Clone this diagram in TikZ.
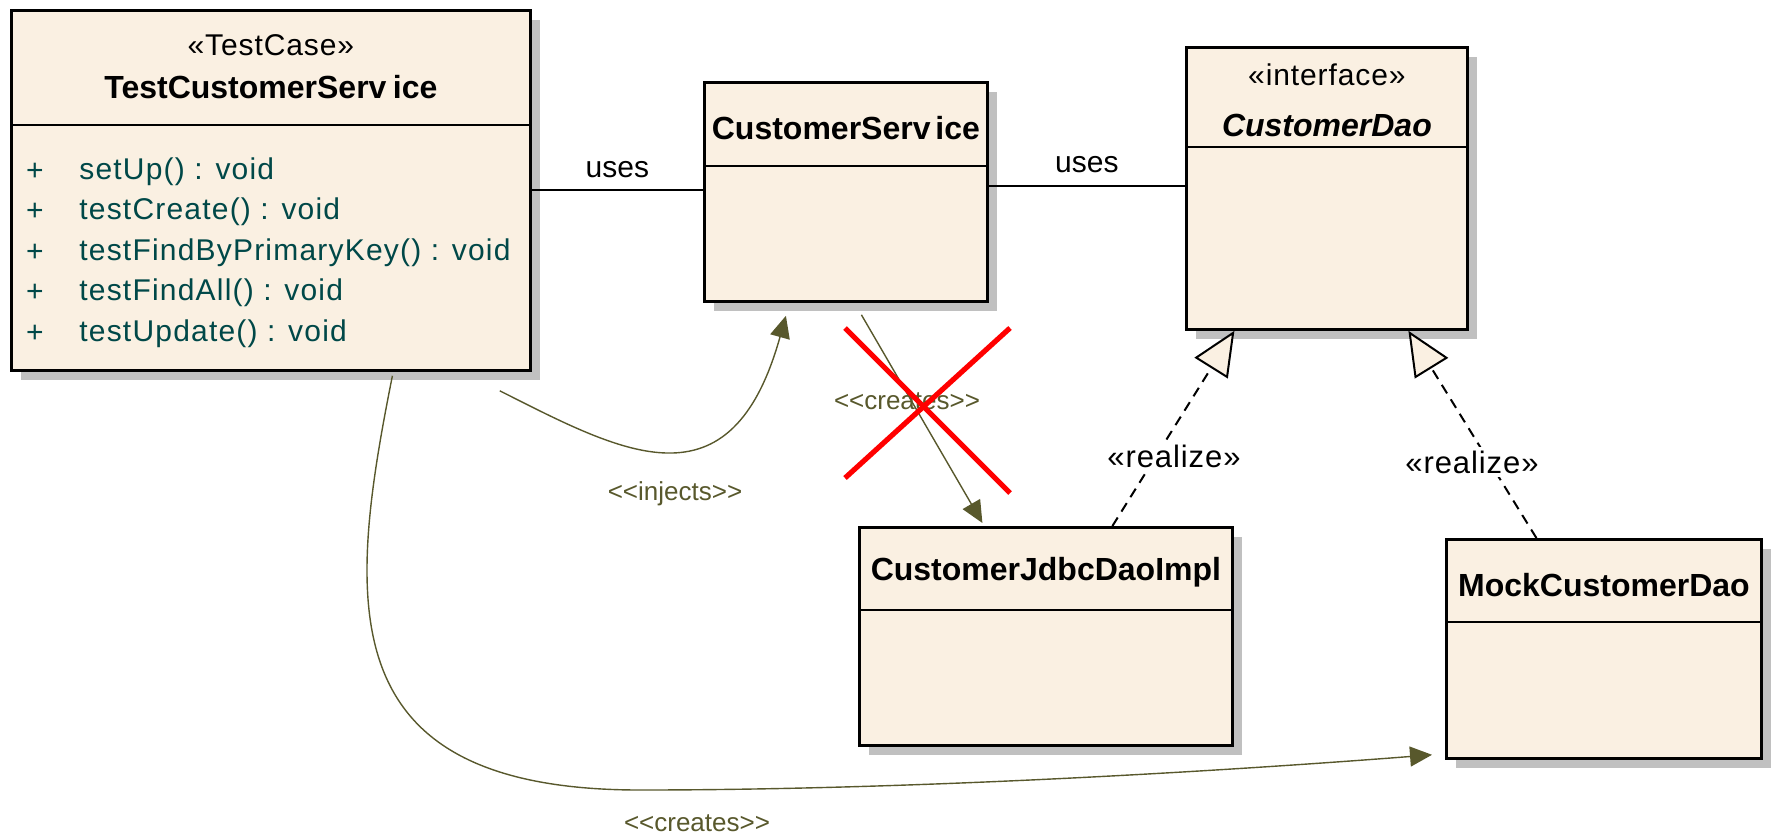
\documentclass[tikz,border=0pt]{standalone}
\usepackage{fontspec}
\setmainfont{Liberation Sans}
\newfontfamily\opfont[LetterSpace=4]{Liberation Sans}
\newfontfamily\stereofont[LetterSpace=3]{Liberation Sans}
\usepackage{xcolor}
\usetikzlibrary{positioning,arrows.meta,shadows}
\definecolor{umlfill}{RGB}{250,240,226}
\definecolor{umlshadow}{RGB}{192,192,192}
\definecolor{depcolor}{RGB}{88,88,44}
\definecolor{opcolor}{RGB}{0,72,72}
\tikzset{
  classbox/.style={draw,line width=1.4pt,fill=umlfill,anchor=north west,inner sep=0pt,
    drop shadow={shadow xshift=5pt,shadow yshift=-5pt,fill=umlshadow,opacity=1}},
  divider/.style={line width=1.3pt},
  classname/.style={font=\fontsize{16}{19}\selectfont\bfseries,inner sep=1pt},
  stereo/.style={font=\fontsize{15}{18}\selectfont\stereofont,inner sep=1pt},
  opsign/.style={font=\fontsize{15}{18}\selectfont,text=opcolor,inner sep=0pt},
  optext/.style={font=\fontsize{15}{18}\selectfont\opfont,text=opcolor,inner sep=0pt,anchor=west},
  assoc/.style={line width=1pt},
  assoclabel/.style={font=\fontsize{15}{18}\selectfont,inner sep=1pt},
  dep/.style={line width=0.7pt,draw=depcolor,-{Triangle[length=11pt,width=10pt,fill=depcolor]}},
  deplabel/.style={font=\fontsize{13}{15}\selectfont,text=depcolor,inner sep=1pt},
  realize/.style={line width=1pt,dash pattern=on 5pt off 3.5pt,-{Triangle[length=22pt,width=19.5pt,fill=umlfill]}},
  realizelabel/.style={font=\fontsize{15.5}{18}\selectfont\stereofont,fill=white,inner sep=2pt},
  crossout/.style={line width=2.6pt,red}
}
\begin{document}
\begin{tikzpicture}[x=0.5pt,y=-0.5pt]
\useasboundingbox (0,0) rectangle (1771,836);
% classes
\node[classbox,minimum width=259.5pt,minimum height=180pt] (tcs) at (10,9) {};
\draw[divider] ([yshift=-58pt]tcs.north west) -- ([yshift=-58pt]tcs.north east);
\node[stereo] (tcs-st) at ([yshift=-18pt]tcs.north) {«TestCase»};
\node[classname] (tcs-name) at ([yshift=-39pt]tcs.north) {TestCustomerServ\hspace{0.2em}ice};
\foreach \op [count=\i] in {setUp() : void,testCreate() : void,testFindByPrimaryKey() : void,testFindAll() : void,testUpdate() : void}{
  \node[opsign] (tcs-p\i) at ([xshift=12.5pt,yshift={-81.2pt-20.3pt*(\i-1)}]tcs.north west) {+};
  \node[optext] (tcs-op\i) at ([xshift=22pt]tcs-p\i.center) {\op};
}

\node[classbox,minimum width=141.5pt,minimum height=109.5pt] (cs) at (703,81) {};
\draw[divider] ([yshift=-42.5pt]cs.north west) -- ([yshift=-42.5pt]cs.north east);
\node[classname] (cs-name) at ([yshift=-23.5pt]cs.north) {CustomerServ\hspace{0.15em}ice};

\node[classbox,minimum width=140.5pt,minimum height=141pt] (cd) at (1185,46) {};
\draw[divider] ([yshift=-50.5pt]cd.north west) -- ([yshift=-50.5pt]cd.north east);
\node[stereo] (cd-st) at ([yshift=-14.5pt]cd.north) {«interface»};
\node[classname,font=\fontsize{16}{19}\selectfont\bfseries\itshape] (cd-name) at ([yshift=-39.5pt]cd.north) {CustomerDao};

\node[classbox,minimum width=186.5pt,minimum height=109pt] (cjdi) at (858,526) {};
\draw[divider] ([yshift=-42pt]cjdi.north west) -- ([yshift=-42pt]cjdi.north east);
\node[classname] (cjdi-name) at ([yshift=-23pt]cjdi.north) {CustomerJdbcDaoImpl};

\node[classbox,minimum width=157.5pt,minimum height=109.5pt] (mcd) at (1445,538) {};
\draw[divider] ([yshift=-42pt]mcd.north west) -- ([yshift=-42pt]mcd.north east);
\node[classname] (mcd-name) at ([yshift=-23.5pt]mcd.north) {MockCustomerDao};

% associations
\draw[assoc] (tcs.east) -- node[assoclabel,midway,above=5pt] (uses1) {uses} (tcs.east -| cs.west);
\draw[assoc] ([yshift=3pt]cs.east) -- node[assoclabel,midway,above=5pt] (uses2) {uses} ([yshift=3pt]cs.east -| cd.west);

% dependencies
\draw[dep] ([xshift=-16pt,yshift=-9.5pt]tcs.south east) .. controls +(123,62) and +(-55,197) .. ([xshift=-30pt,yshift=-6.5pt]cs.south);
\node[deplabel] (injects) at (675,494) {<\kern0pt<injects>\kern0pt>};

\draw[dep] ([xshift=7.75pt,yshift=-6pt]cs.south) -- ([xshift=-31.75pt,yshift=1.5pt]cjdi.north);
\node[deplabel] (creates1) at (907,401) {<\kern0pt<creates>\kern0pt>};
\draw[crossout] (845,328) -- (1010,493);
\draw[crossout] (1010,328) -- (845,478);

\coordinate (crbend) at (640,790);
\draw[dep] ([xshift=60.75pt,yshift=-2pt]tcs.south) .. controls +(-46,230) and +(-310,0) .. (crbend) .. controls +(260,0) and +(-232,18) .. ([xshift=-6.5pt,yshift=2.5pt]mcd.south west);
\node[deplabel] (creates2) at (697,823) {<\kern0pt<creates>\kern0pt>};

% realizations
\draw[realize] ([xshift=33.25pt]cjdi.north) -- ([xshift=-46.25pt]cd.south);
\node[realizelabel] (rz1) at (1174,456) {«realize»};
\draw[realize] ([xshift=-33.75pt]mcd.north) -- ([xshift=40.75pt]cd.south);
\node[realizelabel] (rz2) at (1472,462) {«realize»};
\end{tikzpicture}
\end{document}
